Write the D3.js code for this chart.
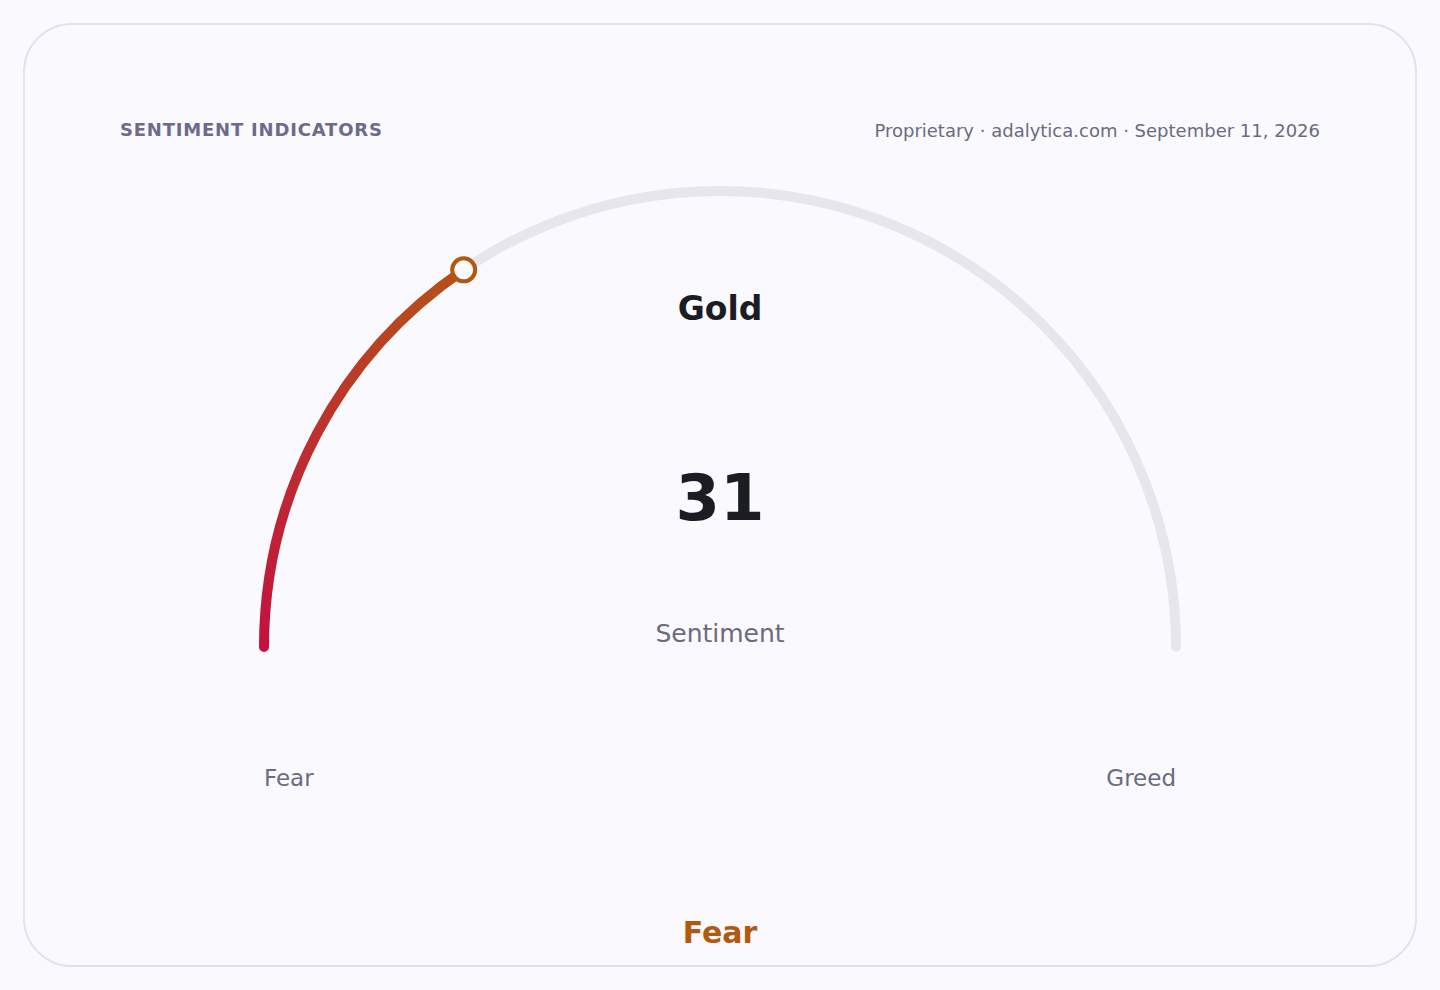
<!DOCTYPE html>
<html>
<head>
<meta charset="utf-8">
<script src="https://cdn.jsdelivr.net/npm/d3@7"></script>
<style>
  html, body { margin: 0; padding: 0; background: #f9f9fe; }
  svg { display: block; font-family: "DejaVu Sans", sans-serif; }
</style>
</head>
<body>
<svg id="chart" width="1440" height="990"></svg>
<script>
// gauge data
var asset = ["Gold"];
var sentiment = [31];
var domainEnds = [0, 100];
var endLabels = ["Fear", "Greed"];
var zoneLabel = ["Fear"];
var headerTitle = "SENTIMENT INDICATORS";
var headerSource = "Proprietary · adalytica.com · September 11, 2026";

var W = 1440, H = 990;
var cx = 720, cy = 647, r = 456;

var svg = d3.select("#chart");

// card
svg.append("rect")
    .attr("x", 24).attr("y", 24)
    .attr("width", 1392).attr("height", 942)
    .attr("rx", 48).attr("ry", 48)
    .attr("fill", "#f9f9fe")
    .attr("stroke", "#e2e2ee")
    .attr("stroke-width", 2);

// header
svg.append("text")
    .attr("x", 120).attr("y", 136)
    .attr("font-size", 18).attr("font-weight", "bold")
    .attr("letter-spacing", 0.8)
    .attr("fill", "#6e6a8a")
    .text(headerTitle);

svg.append("text")
    .attr("x", 1320).attr("y", 137)
    .attr("text-anchor", "end")
    .attr("font-size", 18)
    .attr("fill", "#6b6b80")
    .text(headerSource);

// value -> angle (left = pi, top = 3pi/2, right = 2pi)
var angle = d3.scaleLinear().domain(domainEnds).range([Math.PI, 2 * Math.PI]);

function arcPath(v0, v1) {
    var p = d3.path();
    p.arc(cx, cy, r, angle(v0), angle(v1), false);
    return p.toString();
}

function pointAt(v) {
    var a = angle(v);
    return [cx + r * Math.cos(a), cy + r * Math.sin(a)];
}

var v = sentiment[0];
var start = pointAt(domainEnds[0]);
var tip = pointAt(v);

// gradient from the fear end up to the marker
var defs = svg.append("defs");
var grad = defs.append("linearGradient")
    .attr("id", "valGrad")
    .attr("gradientUnits", "userSpaceOnUse")
    .attr("x1", start[0]).attr("y1", start[1])
    .attr("x2", tip[0]).attr("y2", tip[1]);
grad.append("stop").attr("offset", "0%").attr("stop-color", "#c2123f");
grad.append("stop").attr("offset", "100%").attr("stop-color", "#b6511a");

// track
svg.append("path")
    .attr("d", arcPath(domainEnds[0], domainEnds[1]))
    .attr("fill", "none")
    .attr("stroke", "#e6e6ec")
    .attr("stroke-width", 10)
    .attr("stroke-linecap", "round");

// value arc
svg.append("path")
    .attr("d", arcPath(domainEnds[0], v))
    .attr("fill", "none")
    .attr("stroke", "url(#valGrad)")
    .attr("stroke-width", 10)
    .attr("stroke-linecap", "round");

// marker
svg.append("circle")
    .attr("cx", tip[0]).attr("cy", tip[1])
    .attr("r", 11.5)
    .attr("fill", "#fbfbff")
    .attr("stroke", "#b2580f")
    .attr("stroke-width", 4);

// center texts
svg.append("text")
    .attr("x", cx).attr("y", 320)
    .attr("text-anchor", "middle")
    .attr("font-size", 33).attr("font-weight", "bold")
    .attr("fill", "#1c1c24")
    .text(asset[0]);

svg.append("text")
    .attr("x", cx).attr("y", 520)
    .attr("text-anchor", "middle")
    .attr("font-size", 64).attr("font-weight", "bold")
    .attr("fill", "#1c1c24")
    .text(v);

svg.append("text")
    .attr("x", cx).attr("y", 642)
    .attr("text-anchor", "middle")
    .attr("font-size", 25)
    .attr("fill", "#6b6b80")
    .text("Sentiment");

// end labels
svg.append("text")
    .attr("x", start[0]).attr("y", 786)
    .attr("font-size", 23)
    .attr("fill", "#6b6b80")
    .text(endLabels[0]);

svg.append("text")
    .attr("x", pointAt(domainEnds[1])[0]).attr("y", 786)
    .attr("text-anchor", "end")
    .attr("font-size", 23)
    .attr("fill", "#6b6b80")
    .text(endLabels[1]);

// zone label
svg.append("text")
    .attr("x", cx).attr("y", 943)
    .attr("text-anchor", "middle")
    .attr("font-size", 30).attr("font-weight", "bold")
    .attr("fill", "#b2580f")
    .text(zoneLabel[0]);
</script>
</body>
</html>
